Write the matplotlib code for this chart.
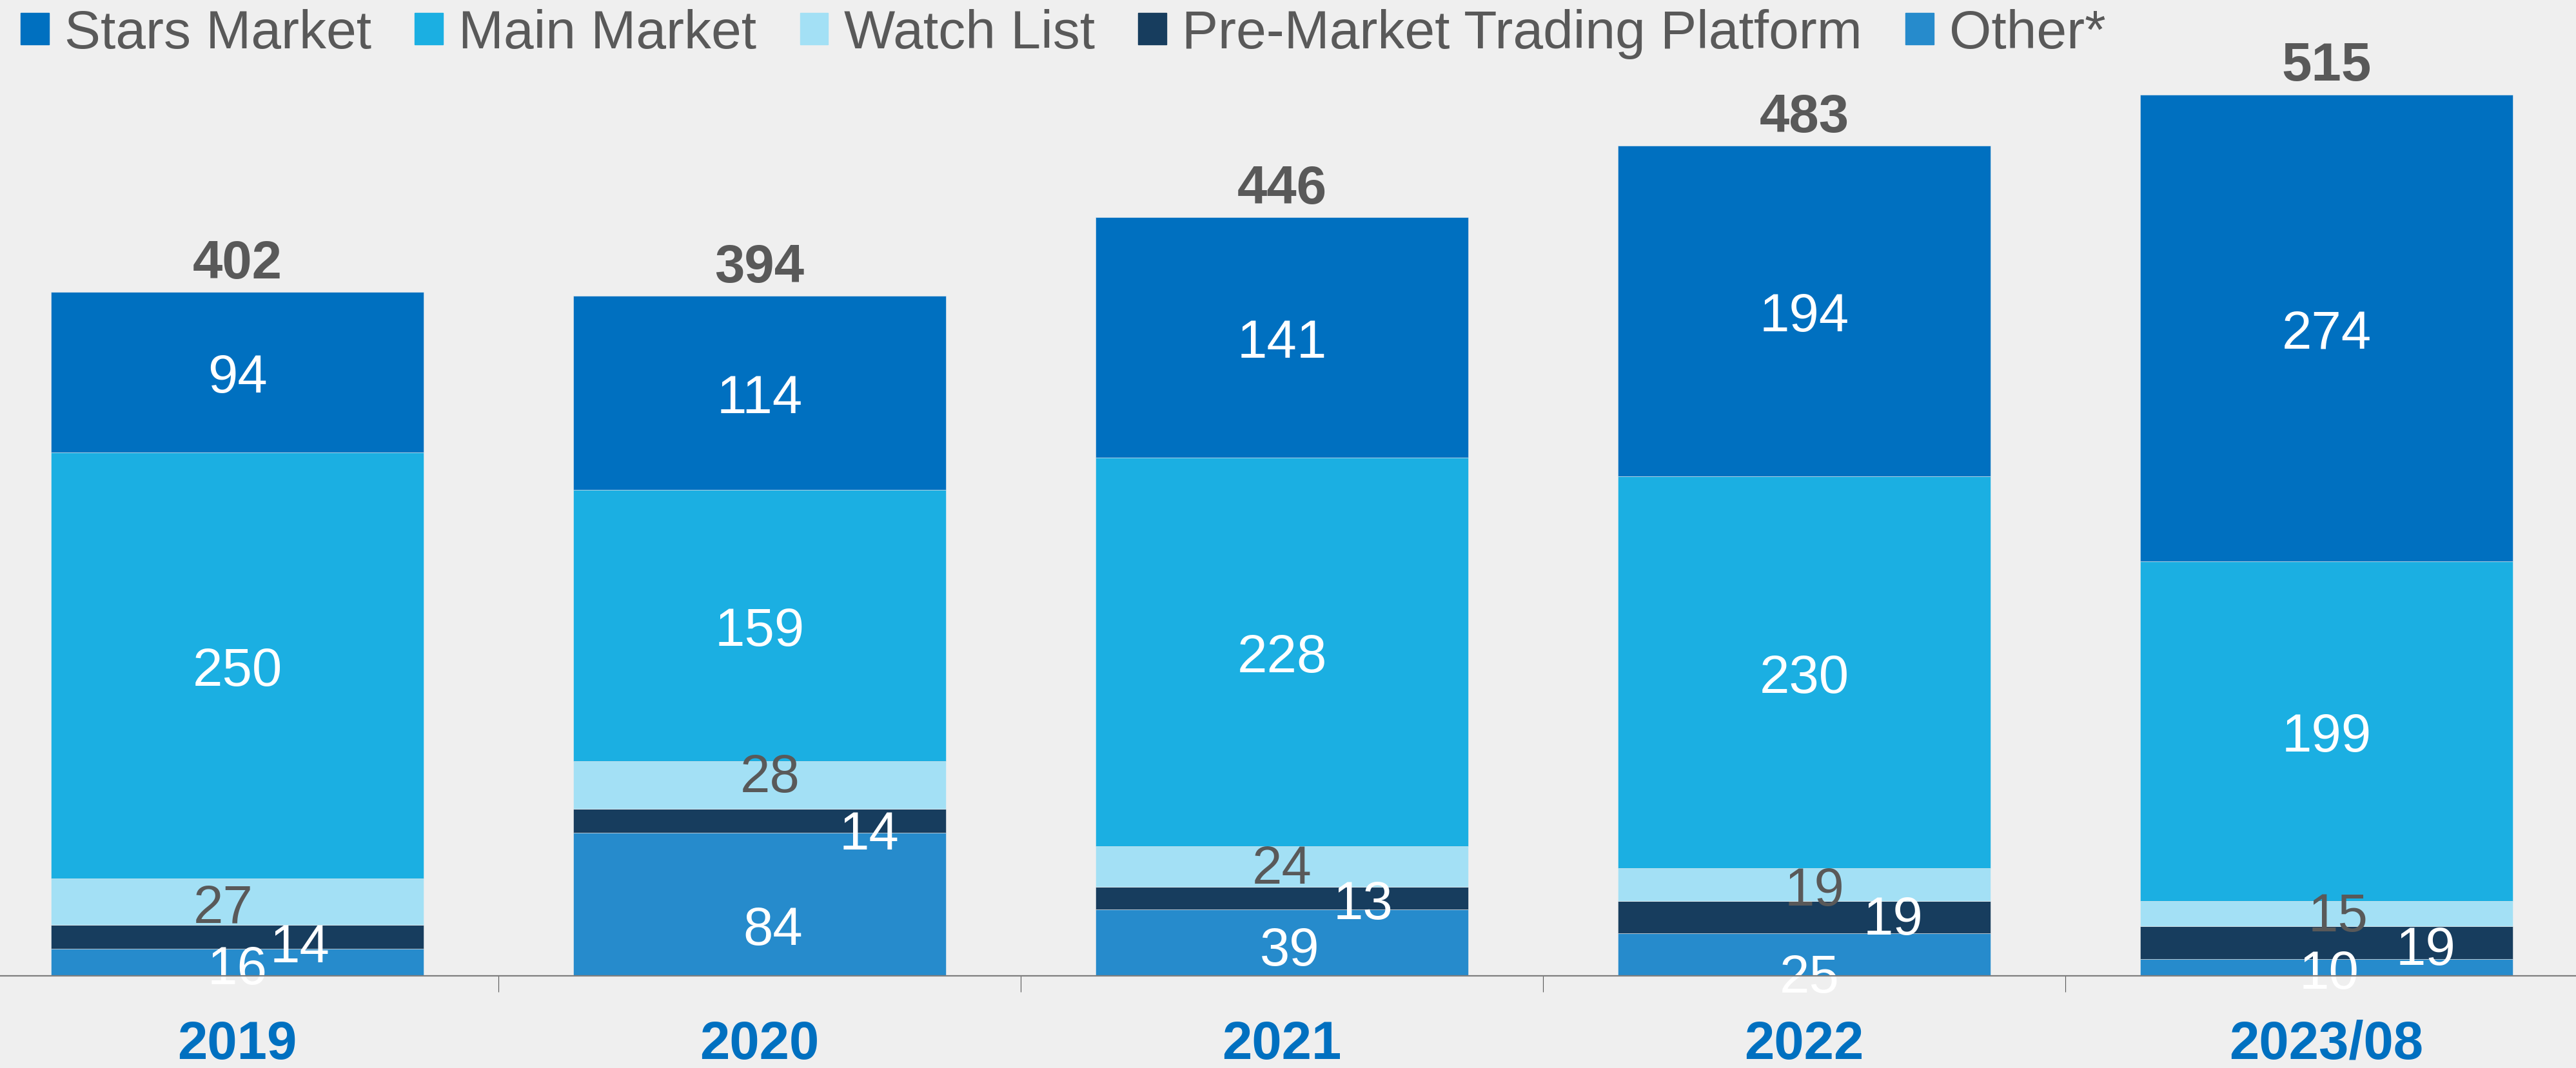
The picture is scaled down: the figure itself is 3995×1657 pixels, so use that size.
import matplotlib.pyplot as plt
from matplotlib.patches import Patch
import numpy as np

plt.rcParams['font.family'] = ['Liberation Sans', 'DejaVu Sans']

# data (stacked bottom -> top)
years = ['2019', '2020', '2021', '2022', '2023/08']
other = [16, 84, 39, 25, 10]
pre_market = [14, 14, 13, 19, 19]
watch_list = [27, 28, 24, 19, 15]
main_market = [250, 159, 228, 230, 199]
stars_market = [94, 114, 141, 194, 274]
totals = [402, 394, 446, 483, 515]

names = ['Other*', 'Pre-Market Trading Platform', 'Watch List', 'Main Market', 'Stars Market']
values = [other, pre_market, watch_list, main_market, stars_market]
colors = ['#268BCC', '#173D5E', '#A3E0F5', '#1BAFE2', '#0070C0']
label_colors = ['white', 'white', '#595959', 'white', 'white']

# label nudges as in the original slide (x: category units, y: data units)
nudge_x = [[0, 0.025, 0.015, 0.01, 0.005],
           [0.12, 0.21, 0.155, 0.17, 0.19],
           [-0.027, 0.02, 0, 0.02, 0.022],
           [0, 0, 0, 0, 0],
           [0, 0, 0, 0, 0]]
nudge_y = [[-1, -12, -1.5, -10.5, -0.5],
           [-3, -5, -0.5, 1.5, -1],
           [-0.5, 7.5, 2, -0.5, 1.5],
           [0, 0, 0, 0, 0],
           [0, 0, 0, 0, 0]]

bg = '#EFEFEF'
fig = plt.figure(figsize=(39.95, 16.58), dpi=100, facecolor=bg)
ax = fig.add_axes([-37/3995, 143/1658, 4050/3995, 1481/1658])
ax.set_facecolor('none')

x = np.arange(len(years))
bottom = np.zeros(len(years))
for i, (name, vals) in enumerate(zip(names, values)):
    vals = np.array(vals, dtype=float)
    ax.bar(x, vals, 0.714, bottom=bottom, color=colors[i], label=name,
           edgecolor=bg, linewidth=0.4, zorder=2)
    for j, v in enumerate(vals):
        ax.text(x[j] + nudge_x[i][j], bottom[j] + v / 2 + nudge_y[i][j], f'{v:.0f}',
                ha='center', va='center_baseline', fontsize=60,
                color=label_colors[i], zorder=3)
    bottom += vals

for j, t in enumerate(totals):
    ax.annotate(str(t), (x[j], bottom[j]), xytext=(0, 16), textcoords='offset points',
                ha='center', va='baseline', fontsize=60, fontweight='bold',
                color='#595959')

ax.set_xlim(-0.5, 4.5)
ax.set_ylim(0, 560)
ax.set_yticks([])
for s in ['top', 'right', 'left']:
    ax.spines[s].set_visible(False)
ax.spines['bottom'].set_color('#7F7F7F')
ax.spines['bottom'].set_linewidth(1.6)
ax.spines['bottom'].set_zorder(4)

ax.set_xticks(x)
ax.set_xticklabels(years, fontsize=60, fontweight='bold', color='#0070C0')
ax.tick_params(axis='x', which='major', length=0, pad=48)
ax.set_xticks(np.arange(-0.5, 5, 1), minor=True)
ax.tick_params(axis='x', which='minor', length=18, width=0.8, color='#595959', direction='out')

handles = [Patch(color=colors[i], label=names[i]) for i in [4, 3, 2, 1, 0]]
fig.legend(handles=handles, loc='center left', bbox_to_anchor=(32/3995, 1 - 53/1658),
           ncol=5, frameon=False, fontsize=60.5, labelcolor='#595959',
           handlelength=0.52, handleheight=0.52, handletextpad=0.29,
           columnspacing=0.8, borderpad=0, borderaxespad=0)

fig.savefig('out.png', dpi=100, facecolor=bg)
